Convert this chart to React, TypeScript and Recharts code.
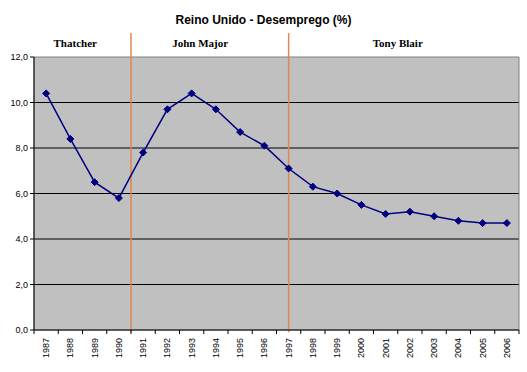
import { LineChart, Line, XAxis, YAxis, CartesianGrid, ReferenceLine, ReferenceDot, ReferenceArea } from 'recharts';

const years = ['1987', '1988', '1989', '1990', '1991', '1992', '1993', '1994', '1995', '1996', '1997', '1998', '1999', '2000', '2001', '2002', '2003', '2004', '2005', '2006'];
const unemployment = [10.4, 8.4, 6.5, 5.8, 7.8, 9.7, 10.4, 9.7, 8.7, 8.1, 7.1, 6.3, 6.0, 5.5, 5.1, 5.2, 5.0, 4.8, 4.7, 4.7];
const yTicks = [0, 2, 4, 6, 8, 10, 12];
const gridValues = [2, 4, 6, 8, 10];
// governments: label position (category index) and where the divider line sits
const governments = [
  { name: 'Thatcher', at: 1.2 },
  { name: 'John Major', at: 6.35 },
  { name: 'Tony Blair', at: 14.5 },
];
const dividers = [3.5, 10];

const W = 527;
const H = 372;
const LEFT = 34;
const RIGHT = 8;
const STEP = (W - LEFT - RIGHT) / years.length;

const data = years.map((y, i) => ({ idx: i, year: y, value: unemployment[i] }));

const Diamond = (props: any) => {
  const { cx, cy, index } = props;
  if (cx == null || cy == null) return <g key={index} />;
  const s = 3.5;
  return (
    <polygon
      key={index}
      points={`${cx},${cy - s} ${cx + s},${cy} ${cx},${cy + s} ${cx - s},${cy}`}
      fill="#000080"
      stroke="#000080"
    />
  );
};

const YearTick = (props: any) => {
  const { x, y, payload, index } = props;
  const half = STEP / 2;
  return (
    <g transform={`translate(${x},${y})`}>
      <line x1={half} y1={0} x2={half} y2={4} stroke="#000" />
      {index === 0 && <line x1={-half} y1={0} x2={-half} y2={4} stroke="#000" />}
      <text
        transform="rotate(-90)"
        x={-8}
        y={3}
        textAnchor="end"
        fontSize={9}
        fontFamily="Arial, 'Liberation Sans', sans-serif"
        fill="#000"
      >
        {years[payload.value]}
      </text>
    </g>
  );
};

export default function App() {
  return (
    <div style={{ position: 'absolute', left: 0, top: 0, width: W, height: H, background: '#fff' }}>
      <div
        style={{
          position: 'absolute',
          top: 13,
          left: 0,
          width: W,
          textAlign: 'center',
          fontFamily: "Arial, 'Liberation Sans', sans-serif",
          fontWeight: 'bold',
          fontSize: 12,
        }}
      >
        Reino Unido - Desemprego (%)
      </div>
      <LineChart width={W} height={H} data={data} margin={{ top: 57, right: RIGHT, bottom: 8, left: 0 }}>
        <CartesianGrid
          vertical={false}
          horizontalValues={gridValues}
          stroke="#000"
          fill="#C0C0C0"
          fillOpacity={1}
        />
        <ReferenceArea x1={-0.5} x2={19.5} y1={0} y2={12} fill="none" stroke="#808080" />
        <XAxis
          dataKey="idx"
          type="number"
          domain={[-0.5, 19.5]}
          ticks={years.map((_, i) => i)}
          interval={0}
          height={34}
          tickSize={0}
          tickMargin={0}
          tickLine={false}
          tick={<YearTick />}
          axisLine={{ stroke: '#000' }}
        />
        <YAxis
          width={LEFT}
          domain={[0, 12]}
          ticks={yTicks}
          tickSize={4}
          tickMargin={2}
          tickFormatter={(v: number) => v.toFixed(1).replace('.', ',')}
          tick={{ fontSize: 9, fill: '#000', fontFamily: "Arial, 'Liberation Sans', sans-serif" }}
          axisLine={{ stroke: '#000' }}
          tickLine={{ stroke: '#000' }}
        />
        {dividers.map((d) => (
          <ReferenceLine
            key={d}
            segment={[{ x: d, y: -0.1 }, { x: d, y: 13.05 }]}
            stroke="#E0874F"
            strokeWidth={1.5}
            ifOverflow="visible"
          />
        ))}
        {governments.map((g) => (
          <ReferenceDot
            key={g.name}
            x={g.at}
            y={12.6}
            r={1}
            fill="none"
            stroke="none"
            ifOverflow="visible"
            label={{
              value: g.name,
              position: 'center',
              fill: '#000',
              fontSize: 11,
              fontWeight: 'bold',
              fontFamily: "'Liberation Serif', 'Times New Roman', serif",
            }}
          />
        ))}
        <Line
          type="linear"
          dataKey="value"
          stroke="#000080"
          strokeWidth={1.5}
          dot={Diamond}
          activeDot={false}
          isAnimationActive={false}
        />
      </LineChart>
    </div>
  );
}
